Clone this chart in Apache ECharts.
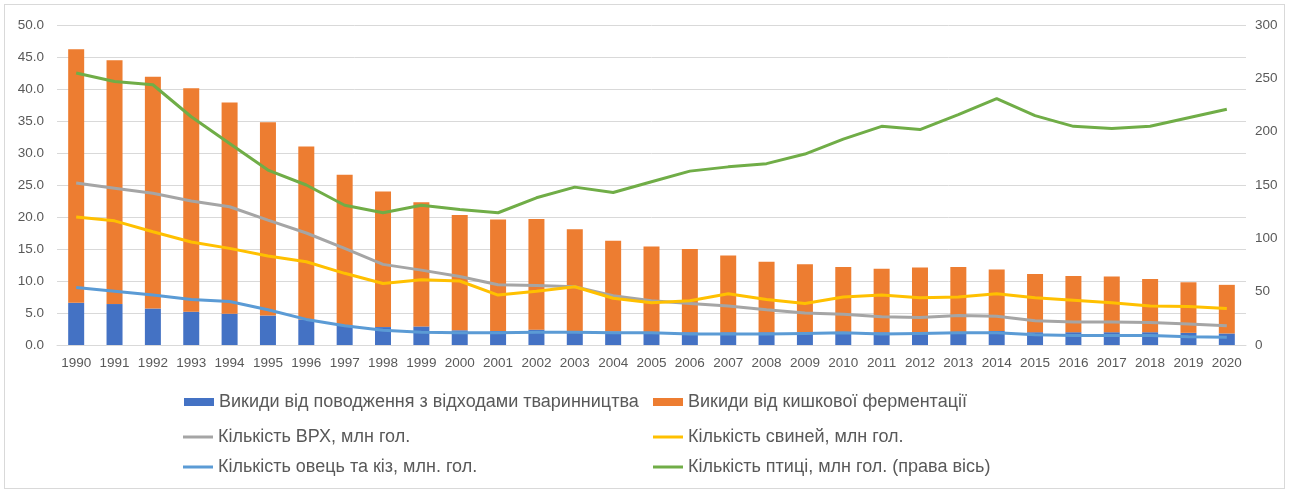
<!DOCTYPE html>
<html>
<head>
<meta charset="utf-8">
<script src="https://cdn.jsdelivr.net/npm/echarts@6/dist/echarts.min.js"></script>
<style>
  html, body { margin: 0; padding: 0; background: #fff; }
  #frame { position: absolute; left: 4px; top: 4px; width: 1279px; height: 483px; border: 1px solid #d9d9d9; }
  #chart { position: absolute; left: 0; top: 0; width: 1289px; height: 492px; }
</style>
</head>
<body>
<div id="frame"></div>
<div id="chart"></div>
<script>
// Years on the category axis
const years = ['1990','1991','1992','1993','1994','1995','1996','1997','1998','1999','2000',
  '2001','2002','2003','2004','2005','2006','2007','2008','2009','2010',
  '2011','2012','2013','2014','2015','2016','2017','2018','2019','2020'];

// Emissions (stacked bars, left axis)
const manureEmissions = [6.6,6.4,5.7,5.2,4.9,4.6,4.0,3.1,2.8,2.9,2.3,2.2,2.4,2.1,2.1,2.0,
  2.0,2.0,2.0,2.0,2.0,2.0,2.0,2.0,2.2,2.0,2.0,2.0,2.0,1.9,1.8];
const entericEmissions = [39.6,38.1,36.2,34.9,33.0,30.2,27.0,23.5,21.2,19.4,18.0,17.4,17.3,16.0,14.2,13.4,
  13.0,12.0,11.0,10.6,10.2,9.9,10.1,10.2,9.6,9.1,8.8,8.7,8.3,7.9,7.6];

// Livestock numbers, mln heads (left axis)
const cattle = [25.3,24.5,23.7,22.5,21.6,19.5,17.5,15.1,12.6,11.7,10.7,9.4,9.3,9.1,7.7,6.9,
  6.5,6.1,5.5,5.0,4.8,4.4,4.3,4.6,4.5,3.8,3.6,3.6,3.5,3.3,3.0];
const pigs = [20.0,19.4,17.7,16.1,15.1,13.9,13.0,11.2,9.6,10.2,10.0,7.8,8.4,9.1,7.3,6.6,
  6.9,8.0,7.1,6.5,7.5,7.8,7.4,7.5,8.0,7.4,7.0,6.6,6.1,6.0,5.7];
const sheepGoats = [9.0,8.4,7.8,7.1,6.8,5.5,4.0,3.0,2.3,2.0,1.9,1.9,2.0,2.0,1.9,1.9,
  1.7,1.7,1.7,1.8,1.9,1.7,1.8,1.9,1.9,1.6,1.5,1.5,1.5,1.3,1.2];
// Poultry, mln heads (right axis)
const poultry = [255,247,244,214,189,164,150,131,124,131,127,124,138,148,143,153,
  163,167,170,179,193,205,202,216,231,215,205,203,205,213,221];

// Series names
const nManure = 'Викиди від поводження з відходами тваринництва';
const nEnteric = 'Викиди від кишкової ферментації';
const nCattle = 'Кількість ВРХ, млн гол.';
const nPigs = 'Кількість свиней, млн гол.';
const nSheep = 'Кількість овець та кіз, млн. гол.';
const nPoultry = 'Кількість птиці, млн гол. (права вісь)';

const legendFont = { color: '#595959', fontSize: 18, fontFamily: '"Liberation Sans", sans-serif' };
const axisFont = { color: '#595959', fontSize: 13.5, fontFamily: '"Liberation Sans", sans-serif' };

function legendItem(name, left, top, w, h) {
  return { data: [name], left: left, top: top, icon: 'rect', itemWidth: w, itemHeight: h,
           itemGap: 0, padding: 0, textStyle: legendFont };
}

const chart = echarts.init(document.getElementById('chart'), null, { renderer: 'canvas' });
chart.setOption({
  animation: false,
  legend: [
    legendItem(nManure, 184, 393, 30, 8),
    legendItem(nEnteric, 653, 393, 30, 8),
    legendItem(nCattle, 183, 428, 30, 3),
    legendItem(nPigs, 653, 428, 30, 3),
    legendItem(nSheep, 183, 458, 30, 3),
    legendItem(nPoultry, 653, 458, 30, 3)
  ],
  grid: { left: 57, right: 43, top: 25, bottom: 147 },
  xAxis: {
    type: 'category',
    data: years,
    axisTick: { show: false },
    axisLine: { show: true, lineStyle: { color: '#d9d9d9' } },
    axisLabel: Object.assign({ margin: 11, interval: 0 }, axisFont)
  },
  yAxis: [
    {
      type: 'value', min: 0, max: 50, interval: 5,
      axisLine: { show: false }, axisTick: { show: false },
      splitLine: { lineStyle: { color: '#d9d9d9', width: 1 } },
      axisLabel: Object.assign({ margin: 13, formatter: v => v.toFixed(1) }, axisFont)
    },
    {
      type: 'value', min: 0, max: 300, interval: 50,
      axisLine: { show: false }, axisTick: { show: false },
      splitLine: { show: false },
      axisLabel: Object.assign({ margin: 9 }, axisFont)
    }
  ],
  series: [
    { name: nManure, type: 'bar', stack: 'em', data: manureEmissions, barWidth: 16,
      itemStyle: { color: '#4472C4' } },
    { name: nEnteric, type: 'bar', stack: 'em', data: entericEmissions, barWidth: 16,
      itemStyle: { color: '#ED7D31' } },
    { name: nCattle, type: 'line', data: cattle, symbol: 'none',
      lineStyle: { color: '#A5A5A5', width: 3 }, itemStyle: { color: '#A5A5A5' } },
    { name: nPigs, type: 'line', data: pigs, symbol: 'none',
      lineStyle: { color: '#FFC000', width: 3 }, itemStyle: { color: '#FFC000' } },
    { name: nSheep, type: 'line', data: sheepGoats, symbol: 'none',
      lineStyle: { color: '#5B9BD5', width: 3 }, itemStyle: { color: '#5B9BD5' } },
    { name: nPoultry, type: 'line', yAxisIndex: 1, data: poultry, symbol: 'none',
      lineStyle: { color: '#70AD47', width: 3 }, itemStyle: { color: '#70AD47' } }
  ]
});
</script>
</body>
</html>
